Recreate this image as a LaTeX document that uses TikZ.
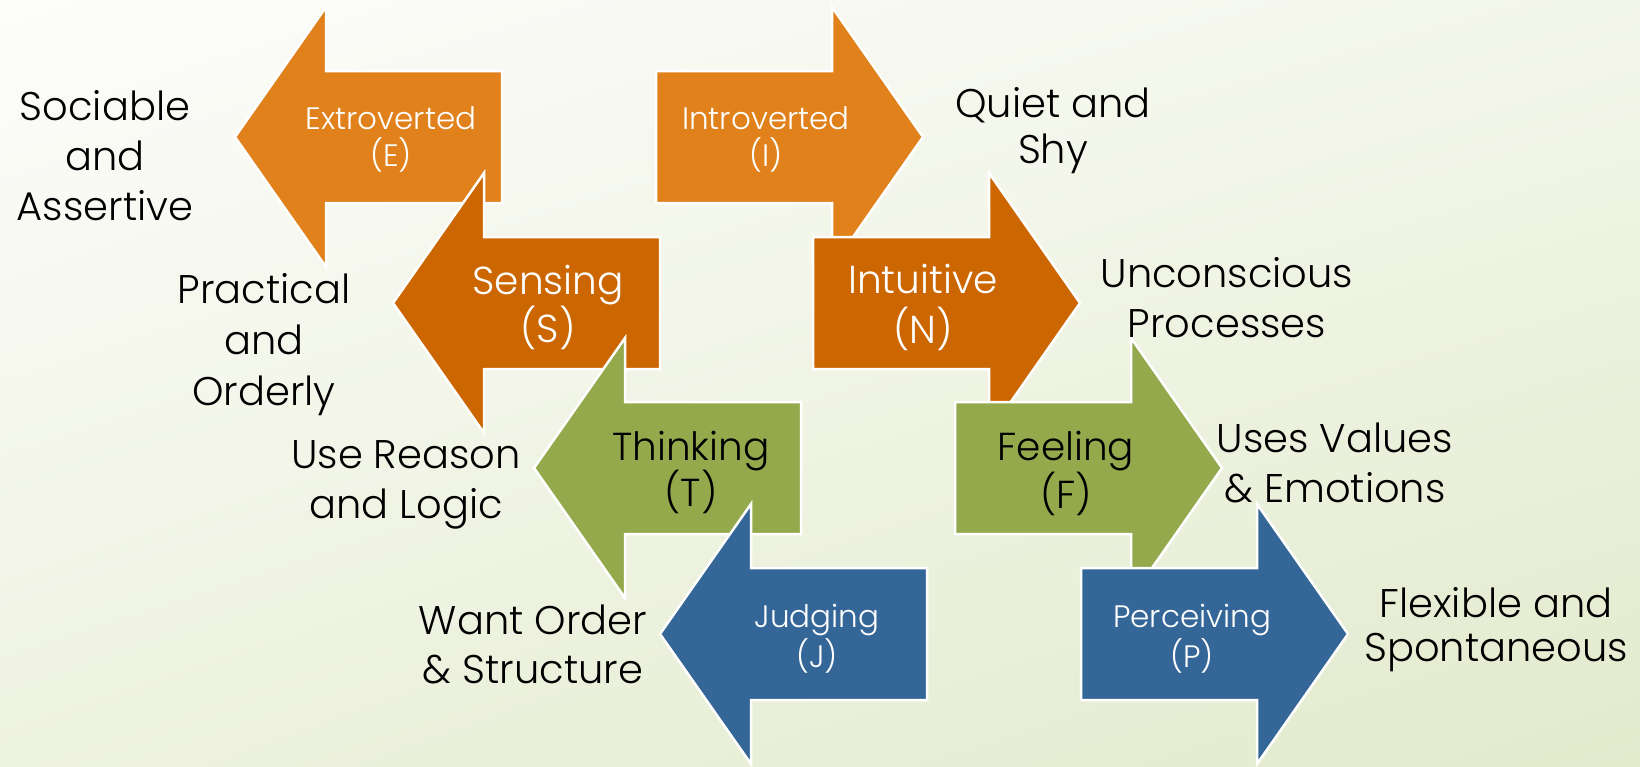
\documentclass[tikz,border=0pt]{standalone}
\usepackage{fontspec}
\setmainfont{Poppins}[UprightFont={* Light}]
\usetikzlibrary{shadings}
\definecolor{orA}{RGB}{224,129,27}
\definecolor{orB}{RGB}{204,102,0}
\definecolor{grn}{RGB}{148,169,76}
\definecolor{blu}{RGB}{52,102,152}
\definecolor{bgA}{RGB}{253,253,251}
\definecolor{bgB}{RGB}{243,246,234}
\definecolor{bgC}{RGB}{238,242,224}
\definecolor{bgD}{RGB}{226,234,204}
\tikzset{
  arrowshape/.style={draw=white, line width=2.5pt, line join=miter},
  lbl/.style={anchor=base, inner sep=0pt, text=black, font=\fontsize{40}{48}\selectfont},
  smalltxt/.style={anchor=base, inner sep=0pt, text=white, font=\fontsize{31}{36}\selectfont},
  bigtxt/.style={anchor=base, inner sep=0pt, font=\fontsize{39}{46}\selectfont},
}
% left-pointing block arrow: tip x, centre y, colour
\newcommand\mbLArrow[3]{%
  \path[arrowshape, fill=#3] (#1,#2) -- ++(91,-130) -- ++(0,64) -- ++(176,0)
    -- ++(0,132) -- ++(-176,0) -- ++(0,64) -- cycle;}
% right-pointing block arrow: tail x, centre y, colour
\newcommand\mbRArrow[3]{%
  \path[arrowshape, fill=#3] (#1,#2) ++(0,-66) -- ++(176,0) -- ++(0,-64)
    -- ++(91,130) -- ++(-91,130) -- ++(0,-64) -- ++(-176,0) -- cycle;}
\begin{document}
\begin{tikzpicture}[x=1pt,y=-1pt]
\useasboundingbox (0,0) rectangle (1640,766);
\shade[upper left=bgA, upper right=bgB, lower left=bgC, lower right=bgD] (0,0) rectangle (1640,766);

% arrows (drawing order as in the reference)
\mbLArrow{235}{137}{orA}
\mbRArrow{656}{137}{orA}
\mbLArrow{393}{303}{orB}
\mbRArrow{813}{303}{orB}
\mbLArrow{534}{468}{grn}
\mbRArrow{955}{468}{grn}
\mbLArrow{660}{634}{blu}
\mbRArrow{1081}{634}{blu}

% texts inside arrows
\node[smalltxt] (e1) at (391,129) {Extroverted};
\node[smalltxt] (e2) at (391,166) {(E)};
\node[smalltxt] (i1) at (766,129) {Introverted};
\node[smalltxt] (i2) at (766,166) {(I)};
\node[bigtxt, text=white] (s1) at (548,294) {Sensing};
\node[bigtxt, text=white] (s2) at (548,342) {(S)};
\node[bigtxt, text=white] (n1) at (923,293) {Intuitive};
\node[bigtxt, text=white] (n2) at (923,343) {(N)};
\node[bigtxt, text=black] (t1) at (691,460) {Thinking};
\node[bigtxt, text=black] (t2) at (691,506) {(T)};
\node[bigtxt, text=black] (f1) at (1066,460) {Feeling};
\node[bigtxt, text=black] (f2) at (1066,508) {(F)};
\node[smalltxt] (j1) at (817,627) {Judging};
\node[smalltxt] (j2) at (817,667) {(J)};
\node[smalltxt] (p1) at (1192,627) {Perceiving};
\node[smalltxt] (p2) at (1192,667) {(P)};

% outside labels
\node[lbl] (soc1) at (105,120) {Sociable};
\node[lbl] (soc2) at (105,170) {and};
\node[lbl] (soc3) at (105,220) {Assertive};
\node[lbl] (qui1) at (1053,117) {Quiet and};
\node[lbl] (qui2) at (1053,163) {Shy};
\node[lbl] (pra1) at (264,303) {Practical};
\node[lbl] (pra2) at (264,354) {and};
\node[lbl] (pra3) at (264,405) {Orderly};
\node[lbl] (unc1) at (1227,287) {Unconscious};
\node[lbl] (unc2) at (1227,337) {Processes};
\node[lbl] (use1) at (406,468) {Use Reason};
\node[lbl] (use2) at (406,518) {and Logic};
\node[lbl] (val1) at (1335,452) {Uses Values};
\node[lbl] (val2) at (1335,502) {\& Emotions};
\node[lbl] (wan1) at (533,634) {Want Order};
\node[lbl] (wan2) at (533,683) {\& Structure};
\node[lbl] (fle1) at (1496,617) {Flexible and};
\node[lbl] (fle2) at (1496,661) {Spontaneous};
\end{tikzpicture}
\end{document}
